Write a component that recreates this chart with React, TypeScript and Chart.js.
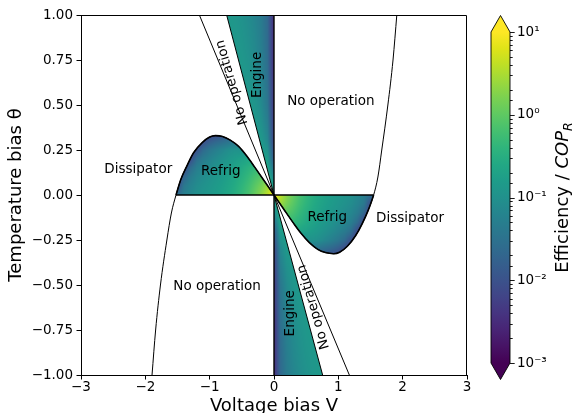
import React, { useEffect, useRef } from 'react';
import { Chart, registerables } from 'chart.js';

Chart.register(...registerables);
Chart.defaults.font.family = "'DejaVu Sans', sans-serif";
Chart.defaults.font.size = 13.5;
Chart.defaults.color = '#000';

// ---------------- data ----------------
// Boundary curve of the refrigerator region (temperature bias θ against voltage bias V)
const curveV = [-1.896, -1.84, -1.765, -1.665, -1.595, -1.523, -1.45, -1.35, -1.25, -1.12, -1.0, -0.91, -0.8, -0.68, -0.55, -0.42, -0.3, -0.15, 0, 0.15, 0.3, 0.42, 0.55, 0.68, 0.8, 0.927, 1.02, 1.14, 1.27, 1.37, 1.47, 1.549, 1.615, 1.675, 1.77, 1.85, 1.909];
const curveTheta = [-1.0, -0.75, -0.5, -0.25, -0.1, 0, 0.085, 0.165, 0.235, 0.29, 0.322, 0.33, 0.325, 0.305, 0.27, 0.215, 0.155, 0.078, 0, -0.078, -0.155, -0.213, -0.265, -0.302, -0.32, -0.326, -0.318, -0.285, -0.225, -0.16, -0.08, 0, 0.1, 0.25, 0.5, 0.75, 1.0];

// Engine boundary lines
const engineTopV = [-0.736, 0];
const engineTopTheta = [1, 0];
const engineBotV = [0, 0.756];
const engineBotTheta = [0, -1];

// "No operation" strip boundary
const stripV = [-1.16, 0, 1.171];
const stripTheta = [1, 0, -1];

// zero lines
const vZeroV = [0, 0];
const vZeroTheta = [-1, 1];
const tZeroV = [-1.523, 1.549];
const tZeroTheta = [0, 0];

// Efficiency / COP fields, log10 values at grid nodes
const refrigLV = [-1.6, -1.5, -1.4, -1.3, -1.2, -1.1, -1.0, -0.9, -0.8, -0.7, -0.6, -0.5, -0.4, -0.3, -0.2, -0.1, 0];
const refrigLTheta = [0, 0.05, 0.1, 0.15, 0.2, 0.25, 0.3, 0.35];
const refrigLLog = [
  [-1.9, -1.55, -1.3, -1.15, -1.02, -0.95, -0.88, -0.8, -0.72, -0.62, -0.5, -0.35, -0.18, 0.05, 0.3, 0.6, 1.0],
  [-2.2, -2.1, -1.4, -1.22, -1.08, -1.0, -0.92, -0.84, -0.76, -0.66, -0.55, -0.41, -0.25, -0.05, 0.15, 0.4, 0.7],
  [-2.3, -2.3, -1.7, -1.35, -1.17, -1.08, -0.99, -0.9, -0.82, -0.72, -0.61, -0.49, -0.35, -0.18, -0.05, 0.12, 0.4],
  [-2.4, -2.4, -2.2, -1.6, -1.3, -1.18, -1.08, -0.98, -0.89, -0.79, -0.69, -0.58, -0.46, -0.36, -0.3, -0.1, 0.2],
  [-2.4, -2.4, -2.4, -2.1, -1.55, -1.35, -1.22, -1.1, -1.0, -0.89, -0.8, -0.72, -0.65, -0.62, -0.5, -0.3, 0.0],
  [-2.4, -2.4, -2.4, -2.4, -2.0, -1.62, -1.42, -1.28, -1.16, -1.04, -0.97, -1.0, -1.0, -0.9, -0.7, -0.5, -0.2],
  [-2.4, -2.4, -2.4, -2.4, -2.4, -2.1, -1.85, -1.7, -1.6, -1.5, -1.5, -1.35, -1.2, -1.1, -0.9, -0.7, -0.4],
  [-2.4, -2.4, -2.4, -2.4, -2.4, -2.4, -2.3, -2.3, -2.2, -2.1, -1.9, -1.6, -1.3, -1.2, -1.0, -0.8, -0.5],
];

const refrigRV = [0, 0.1, 0.2, 0.3, 0.4, 0.5, 0.6, 0.7, 0.8, 0.9, 1.0, 1.1, 1.2, 1.3, 1.4, 1.5, 1.6];
const refrigRTheta = [0, -0.05, -0.1, -0.15, -0.2, -0.25, -0.3, -0.35];
const refrigRLog = [
  [1.0, 0.6, 0.3, 0.05, -0.18, -0.35, -0.5, -0.62, -0.72, -0.8, -0.88, -0.95, -1.02, -1.15, -1.3, -1.55, -1.9],
  [0.7, 0.4, 0.15, -0.05, -0.25, -0.41, -0.55, -0.66, -0.76, -0.84, -0.92, -1.0, -1.08, -1.22, -1.4, -2.1, -2.2],
  [0.4, 0.12, -0.05, -0.18, -0.35, -0.49, -0.61, -0.72, -0.82, -0.9, -0.99, -1.08, -1.17, -1.35, -1.7, -2.3, -2.3],
  [0.2, -0.1, -0.3, -0.36, -0.46, -0.58, -0.69, -0.79, -0.89, -0.98, -1.08, -1.18, -1.3, -1.6, -2.2, -2.4, -2.4],
  [0.0, -0.3, -0.5, -0.62, -0.65, -0.72, -0.8, -0.89, -1.0, -1.1, -1.22, -1.35, -1.55, -2.1, -2.4, -2.4, -2.4],
  [-0.2, -0.5, -0.7, -0.9, -1.0, -1.0, -0.97, -1.04, -1.16, -1.28, -1.42, -1.62, -2.0, -2.4, -2.4, -2.4, -2.4],
  [-0.4, -0.7, -0.9, -1.1, -1.2, -1.35, -1.5, -1.5, -1.6, -1.7, -1.85, -2.1, -2.4, -2.4, -2.4, -2.4, -2.4],
  [-0.5, -0.8, -1.0, -1.2, -1.3, -1.6, -1.9, -2.1, -2.2, -2.3, -2.3, -2.4, -2.4, -2.4, -2.4, -2.4, -2.4],
];

const engineTV = [-0.8, -0.7, -0.6, -0.5, -0.4, -0.3, -0.2, -0.1, 0];
const engineTTheta = [0, 0.1, 0.2, 0.3, 0.4, 0.5, 0.6, 0.7, 0.8, 0.9, 1.0];
const engineTLog = [
  [0.0, 0.0, 0.0, 0.0, 0.0, 0.0, 0.0, -0.1, -0.6],
  [-0.5, -0.5, -0.5, -0.5, -0.5, -0.5, -0.5, -0.45, -1.2],
  [-0.7, -0.7, -0.7, -0.7, -0.7, -0.7, -0.7, -0.8, -1.9],
  [-0.82, -0.82, -0.82, -0.82, -0.82, -0.82, -0.85, -1.15, -2.2],
  [-0.85, -0.85, -0.85, -0.85, -0.85, -0.86, -1.0, -1.3, -2.3],
  [-0.85, -0.85, -0.85, -0.85, -0.85, -0.92, -1.1, -1.42, -2.4],
  [-0.86, -0.86, -0.86, -0.86, -0.9, -1.0, -1.17, -1.5, -2.4],
  [-0.86, -0.86, -0.86, -0.87, -0.94, -1.06, -1.23, -1.55, -2.5],
  [-0.86, -0.86, -0.87, -0.91, -1.0, -1.12, -1.28, -1.6, -2.5],
  [-0.86, -0.87, -0.89, -0.95, -1.04, -1.15, -1.32, -1.62, -2.5],
  [-0.86, -0.88, -0.92, -1.0, -1.08, -1.2, -1.35, -1.65, -2.5],
];

const engineBV = [0, 0.1, 0.2, 0.3, 0.4, 0.5, 0.6, 0.7, 0.8];
const engineBTheta = [0, -0.1, -0.2, -0.3, -0.4, -0.5, -0.6, -0.7, -0.8, -0.9, -1.0];
const engineBLog = [
  [-0.6, -0.1, 0.0, 0.0, 0.0, 0.0, 0.0, 0.0, 0.0],
  [-1.2, -0.45, -0.5, -0.5, -0.5, -0.5, -0.5, -0.5, -0.5],
  [-1.9, -0.8, -0.7, -0.7, -0.7, -0.7, -0.7, -0.7, -0.7],
  [-2.2, -1.15, -0.85, -0.82, -0.82, -0.82, -0.82, -0.82, -0.82],
  [-2.3, -1.3, -1.0, -0.86, -0.85, -0.85, -0.85, -0.85, -0.85],
  [-2.4, -1.42, -1.1, -0.92, -0.85, -0.85, -0.85, -0.85, -0.85],
  [-2.4, -1.5, -1.17, -1.0, -0.9, -0.86, -0.86, -0.86, -0.86],
  [-2.5, -1.55, -1.23, -1.06, -0.94, -0.87, -0.86, -0.86, -0.86],
  [-2.5, -1.6, -1.28, -1.12, -1.0, -0.91, -0.87, -0.86, -0.86],
  [-2.5, -1.62, -1.32, -1.15, -1.04, -0.95, -0.89, -0.87, -0.86],
  [-2.5, -1.65, -1.35, -1.2, -1.08, -1.0, -0.92, -0.88, -0.86],
];

// Region labels
const noteText = ['Dissipator', 'Refrig', 'No operation', 'No operation', 'Refrig', 'Dissipator', 'Engine', 'Engine', 'No operation', 'No operation'];
const noteV = [-2.11, -0.828, 0.885, -0.885, 0.829, 2.115, -0.259, 0.252, -0.652, 0.616];
const noteTheta = [0.144, 0.133, 0.518, -0.509, -0.124, -0.133, 0.667, -0.657, 0.626, -0.622];
const noteAngle = [0, 0, 0, 0, 0, 0, -90, -90, -106, -106];

// Axes
const xMin = -3, xMax = 3, xStep = 1;
const yMin = -1, yMax = 1, yStep = 0.25;
const cbMin = 1e-3, cbMax = 1e1;

// ---------------- colormap ----------------
const VIRIDIS = ['#440154', '#471365', '#482475', '#463480', '#414487', '#3b528b', '#355f8d', '#2f6c8e', '#2a788e', '#25848e', '#21918c', '#1e9c89', '#22a884', '#2fb47c', '#44bf70', '#5ec962', '#7ad151', '#9bd93c', '#bddf26', '#dfe318', '#fde725'];
const VIR_RGB = VIRIDIS.map((h) => [parseInt(h.slice(1, 3), 16), parseInt(h.slice(3, 5), 16), parseInt(h.slice(5, 7), 16)]);
function viridis(t: number): number[] {
  const tt = Math.min(1, Math.max(0, t)) * (VIR_RGB.length - 1);
  const i = Math.min(Math.floor(tt), VIR_RGB.length - 2);
  const f = tt - i;
  const a = VIR_RGB[i], b = VIR_RGB[i + 1];
  return [a[0] + (b[0] - a[0]) * f, a[1] + (b[1] - a[1]) * f, a[2] + (b[2] - a[2]) * f];
}

type Field = { xs: number[]; ys: number[]; z: number[][] };
const fields: Record<string, Field> = {
  refrigL: { xs: refrigLV, ys: refrigLTheta, z: refrigLLog },
  refrigR: { xs: refrigRV, ys: refrigRTheta, z: refrigRLog },
  engineT: { xs: engineTV, ys: engineTTheta, z: engineTLog },
  engineB: { xs: engineBV, ys: engineBTheta, z: engineBLog },
};
const patterns: Record<string, any> = {};

function renderField(chart: any, f: Field): HTMLCanvasElement {
  const sx = chart.scales.x, sy = chart.scales.y;
  const cv = document.createElement('canvas');
  cv.width = chart.width;
  cv.height = chart.height;
  const c2 = cv.getContext('2d')!;
  const a = chart.chartArea;
  const xp = f.xs.map((v) => sx.getPixelForValue(v));
  const yp = f.ys.map((v) => sy.getPixelForValue(v));
  const x0 = Math.max(Math.floor(Math.min(...xp)) - 1, Math.floor(a.left));
  const x1 = Math.min(Math.ceil(Math.max(...xp)) + 1, Math.ceil(a.right));
  const y0 = Math.max(Math.floor(Math.min(...yp)) - 1, Math.floor(a.top));
  const y1 = Math.min(Math.ceil(Math.max(...yp)) + 1, Math.ceil(a.bottom));
  const w = x1 - x0, h = y1 - y0;
  if (w <= 0 || h <= 0) return cv;
  const img = c2.createImageData(w, h);
  const nx = f.xs.length, ny = f.ys.length;
  const lo = Math.log10(cbMin), hi = Math.log10(cbMax);
  for (let j = 0; j < h; j++) {
    const th = sy.getValueForPixel(y0 + j + 0.5);
    let fy = ((th - f.ys[0]) / (f.ys[ny - 1] - f.ys[0])) * (ny - 1);
    fy = Math.min(Math.max(fy, 0), ny - 1);
    const j0 = Math.min(Math.floor(fy), ny - 2);
    const ty = fy - j0;
    for (let i = 0; i < w; i++) {
      const v = sx.getValueForPixel(x0 + i + 0.5);
      let fx = ((v - f.xs[0]) / (f.xs[nx - 1] - f.xs[0])) * (nx - 1);
      fx = Math.min(Math.max(fx, 0), nx - 1);
      const i0 = Math.min(Math.floor(fx), nx - 2);
      const tx = fx - i0;
      const z =
        (1 - ty) * ((1 - tx) * f.z[j0][i0] + tx * f.z[j0][i0 + 1]) +
        ty * ((1 - tx) * f.z[j0 + 1][i0] + tx * f.z[j0 + 1][i0 + 1]);
      const c = viridis((z - lo) / (hi - lo));
      const k = (j * w + i) * 4;
      img.data[k] = c[0];
      img.data[k + 1] = c[1];
      img.data[k + 2] = c[2];
      img.data[k + 3] = 255;
    }
  }
  c2.putImageData(img, x0, y0);
  return cv;
}

const pts = (xs: number[], ys: number[]) => xs.map((x, i) => ({ x, y: ys[i] }));
const minus = (s: string) => s.replace('-', '\u2212');
const SUP: Record<string, string> = { '-': '\u207B', '0': '\u2070', '1': '\u00B9', '2': '\u00B2', '3': '\u00B3', '4': '\u2074', '5': '\u2075', '6': '\u2076', '7': '\u2077', '8': '\u2078', '9': '\u2079' };
const sup = (n: number) => String(n).split('').map((c) => SUP[c]).join('');

function mainConfig(): any {
  const heatPlugin = {
    id: 'heatfield',
    afterLayout(chart: any) {
      for (const key of Object.keys(fields)) {
        const cv = renderField(chart, fields[key]);
        patterns[key] = chart.ctx.createPattern(cv, 'no-repeat') || 'rgba(0,0,0,0)';
      }
    },
  };
  const notesPlugin = {
    id: 'notes',
    afterDatasetsDraw(chart: any) {
      const { ctx, chartArea: a } = chart;
      const sx = chart.scales.x, sy = chart.scales.y;
      ctx.save();
      ctx.font = "13.5px 'DejaVu Sans', sans-serif";
      ctx.fillStyle = '#000';
      ctx.textAlign = 'center';
      ctx.textBaseline = 'middle';
      noteText.forEach((t, i) => {
        ctx.save();
        ctx.translate(sx.getPixelForValue(noteV[i]), sy.getPixelForValue(noteTheta[i]));
        ctx.rotate((noteAngle[i] * Math.PI) / 180);
        ctx.fillText(t, 0, 0);
        ctx.restore();
      });
      // top and right spines
      ctx.strokeStyle = '#000';
      ctx.lineWidth = 1;
      ctx.beginPath();
      const top = Math.round(a.top) + 0.5;
      const right = Math.round(a.right) - 0.5;
      ctx.moveTo(a.left, top);
      ctx.lineTo(right, top);
      ctx.lineTo(right, a.bottom);
      ctx.stroke();
      ctx.restore();
    },
  };
  const line = (data: any, width: number) => ({
    data,
    borderColor: '#000',
    borderWidth: width,
    pointRadius: 0,
    fill: false,
    order: 0,
  });
  return {
    type: 'line',
    data: {
      datasets: [
        { ...line(pts(curveV, curveTheta), 1), cubicInterpolationMode: 'monotone' },
        line(pts(stripV, stripTheta), 1),
        line(pts(vZeroV, vZeroTheta), 1.4),
        line(pts(tZeroV, tZeroTheta), 1.3),
        {
          data: pts(curveV.slice(5, 19), curveTheta.slice(5, 19)),
          cubicInterpolationMode: 'monotone',
          fill: { value: 0 },
          backgroundColor: () => patterns.refrigL,
          borderColor: '#000',
          borderWidth: 1.6,
          pointRadius: 0,
          order: 1,
        },
        {
          data: pts(curveV.slice(18, 32), curveTheta.slice(18, 32)),
          cubicInterpolationMode: 'monotone',
          fill: { value: 0 },
          backgroundColor: () => patterns.refrigR,
          borderColor: '#000',
          borderWidth: 1.6,
          pointRadius: 0,
          order: 1,
        },
        {
          data: pts(engineTopV, engineTopTheta),
          fill: { value: yMax },
          backgroundColor: () => patterns.engineT,
          borderColor: '#000',
          borderWidth: 1,
          pointRadius: 0,
          order: 1,
        },
        {
          data: pts(engineBotV, engineBotTheta),
          fill: { value: yMin },
          backgroundColor: () => patterns.engineB,
          borderColor: '#000',
          borderWidth: 1,
          pointRadius: 0,
          order: 1,
        },
      ],
    },
    options: {
      animation: false,
      responsive: false,
      events: [],
      layout: { padding: { left: 0, right: 107, top: 15, bottom: 0 } },
      plugins: { legend: { display: false }, tooltip: { enabled: false } },
      scales: {
        x: {
          type: 'linear',
          min: xMin,
          max: xMax,
          afterFit: (s: any) => {
            s.height = 55;
          },
          ticks: {
            stepSize: xStep,
            padding: 0,
            color: '#000',
            font: { size: 13.5 },
            maxRotation: 0,
            callback: (v: any) => minus(String(Math.round(Number(v)))),
          },
          grid: { drawOnChartArea: false, drawTicks: true, tickLength: 4.5, tickColor: '#000', tickWidth: 1 },
          border: { display: true, color: '#000', width: 1 },
          title: { display: true, text: 'Voltage bias V', font: { size: 18 }, color: '#000', padding: { top: 0, bottom: 13 } },
        },
        y: {
          type: 'linear',
          min: yMin,
          max: yMax,
          afterFit: (s: any) => {
            s.width = 81;
          },
          ticks: {
            stepSize: yStep,
            padding: 3.5,
            color: '#000',
            font: { size: 13.5 },
            callback: (v: any) => (Math.abs(Number(v)) < 1e-9 ? '0.00' : minus(Number(v).toFixed(2))),
          },
          grid: { drawOnChartArea: false, drawTicks: true, tickLength: 4.5, tickColor: '#000', tickWidth: 1 },
          border: { display: true, color: '#000', width: 1 },
          title: { display: true, text: 'Temperature bias \u03B8', font: { size: 18 }, color: '#000', padding: { top: 6, bottom: 0 } },
        },
      },
    },
    plugins: [heatPlugin, notesPlugin],
  };
}

function colorbarConfig(): any {
  const cbPlugin = {
    id: 'colorbar',
    afterDraw(chart: any) {
      const { ctx, chartArea: a } = chart;
      const sy = chart.scales.y;
      const yb = sy.getPixelForValue(cbMin), yt = sy.getPixelForValue(cbMax);
      ctx.save();
      const g = ctx.createLinearGradient(0, yb, 0, yt);
      VIRIDIS.forEach((c, i) => g.addColorStop(i / (VIRIDIS.length - 1), c));
      ctx.fillStyle = g;
      ctx.fillRect(a.left, yt, a.right - a.left, yb - yt);
      const cx = (a.left + a.right) / 2;
      const ext = 16.5;
      ctx.fillStyle = VIRIDIS[VIRIDIS.length - 1];
      ctx.beginPath();
      ctx.moveTo(a.left, yt);
      ctx.lineTo(cx, yt - ext);
      ctx.lineTo(a.right, yt);
      ctx.closePath();
      ctx.fill();
      ctx.fillStyle = VIRIDIS[0];
      ctx.beginPath();
      ctx.moveTo(a.left, yb);
      ctx.lineTo(cx, yb + ext);
      ctx.lineTo(a.right, yb);
      ctx.closePath();
      ctx.fill();
      // outline
      ctx.strokeStyle = '#000';
      ctx.lineWidth = 0.9;
      ctx.beginPath();
      ctx.moveTo(a.left, yt);
      ctx.lineTo(cx, yt - ext);
      ctx.lineTo(a.right, yt);
      ctx.lineTo(a.right, yb);
      ctx.lineTo(cx, yb + ext);
      ctx.lineTo(a.left, yb);
      ctx.closePath();
      ctx.stroke();
      // ticks
      ctx.lineWidth = 0.9;
      for (const t of sy.ticks) {
        const lg = Math.log10(t.value);
        const major = Math.abs(lg - Math.round(lg)) < 1e-6;
        const p = Math.round(sy.getPixelForValue(t.value)) + 0.5;
        ctx.beginPath();
        ctx.moveTo(a.right, p);
        ctx.lineTo(a.right + (major ? 4.7 : 2.7), p);
        ctx.stroke();
      }
      // label
      ctx.translate(568, (yt + yb) / 2);
      ctx.rotate(-Math.PI / 2);
      ctx.fillStyle = '#000';
      ctx.textBaseline = 'alphabetic';
      ctx.textAlign = 'left';
      const f1 = "18px 'DejaVu Sans', sans-serif";
      const f2 = "italic 18px 'DejaVu Sans', sans-serif";
      const f3 = "italic 12.6px 'DejaVu Sans', sans-serif";
      const p1 = 'Efficiency / ', p2 = 'COP', p3 = 'R';
      ctx.font = f1;
      const w1 = ctx.measureText(p1).width;
      ctx.font = f2;
      const w2 = ctx.measureText(p2).width;
      ctx.font = f3;
      const w3 = ctx.measureText(p3).width;
      let x = -(w1 + w2 + w3) / 2;
      ctx.font = f1;
      ctx.fillText(p1, x, 0);
      x += w1;
      ctx.font = f2;
      ctx.fillText(p2, x, 0);
      x += w2;
      ctx.font = f3;
      ctx.fillText(p3, x, 3.6);
      ctx.restore();
    },
  };
  return {
    type: 'line',
    data: { datasets: [] },
    options: {
      animation: false,
      responsive: false,
      events: [],
      layout: { padding: { left: 491, right: 0, top: 32, bottom: 50 } },
      plugins: { legend: { display: false }, tooltip: { enabled: false } },
      scales: {
        x: { type: 'linear', display: false },
        y: {
          type: 'logarithmic',
          position: 'right',
          min: cbMin,
          max: cbMax,
          afterFit: (s: any) => {
            s.width = 64;
          },
          grid: { display: false, drawTicks: false },
          border: { display: false },
          ticks: {
            autoSkip: false,
            padding: 7,
            color: '#000',
            font: { size: 13.5 },
            callback: (v: any) => {
              const lg = Math.log10(Number(v));
              return Math.abs(lg - Math.round(lg)) < 1e-6 ? '10' + sup(Math.round(lg)) : '';
            },
          },
        },
      },
    },
    plugins: [cbPlugin],
  };
}

export default function App() {
  const mainRef = useRef<HTMLCanvasElement>(null);
  const cbRef = useRef<HTMLCanvasElement>(null);
  useEffect(() => {
    const c1 = new Chart(mainRef.current as HTMLCanvasElement, mainConfig());
    const c2 = new Chart(cbRef.current as HTMLCanvasElement, colorbarConfig());
    return () => {
      c1.destroy();
      c2.destroy();
    };
  }, []);
  return (
    <div style={{ position: 'fixed', left: 0, top: 0, width: 574, height: 413, overflow: 'hidden', background: '#fff' }}>
      <canvas ref={mainRef} width={574} height={430} style={{ position: 'absolute', left: 0, top: 0 }} />
      <canvas ref={cbRef} width={574} height={413} style={{ position: 'absolute', left: 0, top: 0, pointerEvents: 'none' }} />
    </div>
  );
}
